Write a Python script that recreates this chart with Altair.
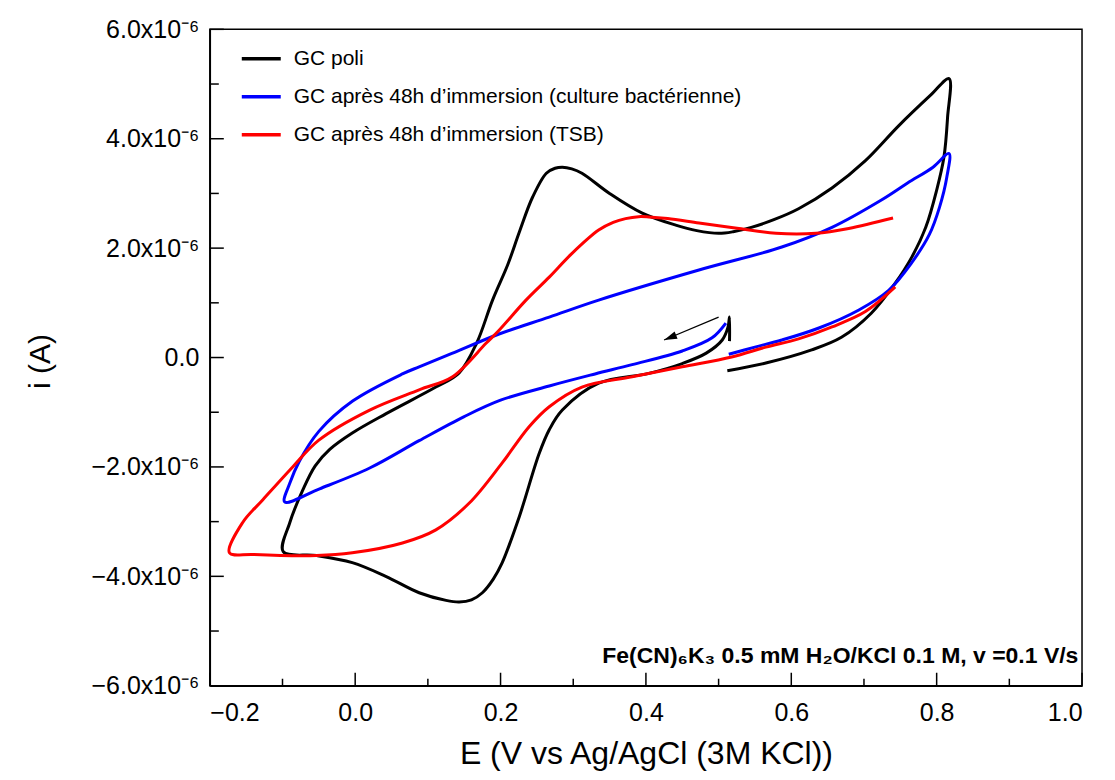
import altair as alt
import pandas as pd

SERIES = ["GC poli",
          "GC après 48h d’immersion (culture bactérienne)",
          "GC après 48h d’immersion (TSB)"]
COLORS = ["#000000", "#0000ff", "#ff0000"]

# ---- GC poli (black), current in µA ----
black_E = [0.512, 0.565, 0.628, 0.669, 0.710, 0.743, 0.766, 0.785, 0.800, 0.810, 0.815, 0.817,
           0.792, 0.748, 0.702, 0.656, 0.610, 0.576, 0.545, 0.520, 0.500, 0.470, 0.441, 0.395,
           0.350, 0.312, 0.298, 0.285, 0.275, 0.263, 0.244, 0.226, 0.210, 0.189, 0.167, 0.143,
           0.111, 0.042, -0.004, -0.035, -0.055, -0.072, -0.090, -0.099,
           -0.053, -0.004, 0.042, 0.088, 0.125, 0.143, 0.160, 0.175, 0.190, 0.202, 0.226, 0.253,
           0.267, 0.285, 0.335, 0.404, 0.450, 0.483, 0.505, 0.513, 0.515, 0.515]
black_I = [-0.24, -0.10, 0.14, 0.37, 0.81, 1.36, 1.84, 2.38, 3.06, 3.66, 4.39, 5.10,
           4.80, 4.24, 3.60, 3.10, 2.72, 2.52, 2.38, 2.30, 2.27, 2.32, 2.42, 2.64,
           3.00, 3.37, 3.45, 3.48, 3.46, 3.37, 2.93, 2.30, 1.70, 1.05, 0.26, -0.28,
           -0.54, -1.03, -1.38, -1.68, -1.98, -2.42, -3.02, -3.55,
           -3.62, -3.75, -4.00, -4.30, -4.44, -4.47, -4.43, -4.30, -4.05, -3.76, -2.90, -1.76,
           -1.32, -0.96, -0.47, -0.29, -0.11, 0.08, 0.32, 0.56, 0.74, 0.30]

# ---- GC après 48h d'immersion (culture bactérienne) (blue) ----
blue_E = [0.514, 0.550, 0.587, 0.638, 0.693, 0.734, 0.766, 0.790, 0.804, 0.814, 0.817,
          0.795, 0.760, 0.724, 0.656, 0.587, 0.473, 0.335, 0.267, 0.198, 0.134, 0.088, 0.065,
          -0.004, -0.050, -0.077, -0.090, -0.097,
          -0.049, 0.020, 0.088, 0.150, 0.200, 0.267, 0.330, 0.381, 0.450, 0.491, 0.510]
blue_I = [0.06, 0.19, 0.32, 0.54, 0.87, 1.23, 1.74, 2.25, 2.75, 3.30, 3.73,
          3.48, 3.19, 2.88, 2.38, 2.02, 1.60, 1.05, 0.74, 0.43, 0.08, -0.17, -0.30,
          -0.80, -1.35, -1.90, -2.30, -2.64,
          -2.40, -2.02, -1.52, -1.08, -0.78, -0.52, -0.30, -0.13, 0.12, 0.36, 0.63]

# ---- GC après 48h d'immersion (TSB) (red) ----
red_E = [0.740, 0.679, 0.634, 0.579, 0.528, 0.473, 0.430, 0.404, 0.390, 0.372, 0.355, 0.335,
         0.298, 0.267, 0.235, 0.198, 0.180, 0.134, 0.088, 0.020, -0.050, -0.086, -0.127,
         -0.155, -0.173,
         -0.141, -0.053, -0.004, 0.065, 0.111, 0.157, 0.202, 0.239, 0.267, 0.312, 0.381,
         0.450, 0.518, 0.565, 0.610, 0.656, 0.702, 0.743]
red_I = [2.55, 2.36, 2.27, 2.27, 2.36, 2.46, 2.54, 2.57, 2.575, 2.54, 2.47, 2.33,
         1.90, 1.47, 1.05, 0.50, 0.26, -0.35, -0.59, -0.96, -1.51, -2.00, -2.60,
         -3.02, -3.57,
         -3.60, -3.62, -3.57, -3.39, -3.15, -2.66, -1.93, -1.27, -0.90, -0.54, -0.35,
         -0.17, 0.01, 0.19, 0.34, 0.56, 0.84, 1.29]

x_major = [-0.2, 0.0, 0.2, 0.4, 0.6, 0.8, 1.0]
x_minor = [-0.1, 0.1, 0.3, 0.5, 0.7, 0.9]
y_major = [-6, -4, -2, 0, 2, 4, 6]
y_minor = [-5, -3, -1, 1, 3, 5]

arrow_E = [0.500, 0.425]   # tail, head
arrow_I = [0.74, 0.32]

note_text = "Fe(CN)₆K₃ 0.5 mM H₂O/KCl 0.1 M, v =0.1 V/s"
note_E = [0.995]
note_I = [-5.58]

W, H = 873, 657
FONT = "Liberation Sans"

rows = []
for name, es, is_ in zip(SERIES, [black_E, blue_E, red_E], [black_I, blue_I, red_I]):
    for k, (e, i) in enumerate(zip(es, is_)):
        rows.append({"series": name, "E": e, "I": i, "idx": k})
df = pd.DataFrame(rows)

xs = alt.Scale(domain=[-0.2, 1.0], nice=False, zero=False)
ys = alt.Scale(domain=[-6, 6], nice=False, zero=False)

x_axis = alt.Axis(
    values=x_major, format=".1f", title="E (V vs Ag/AgCl (3M KCl))",
    labelFontSize=25, labelPadding=15, labelBaseline="top",
    titleFontSize=32, titleFontWeight="normal", titleY=78, titleBaseline="alphabetic")
y_axis = alt.Axis(
    values=y_major,
    labelExpr="datum.value == 0 ? '0.0' : format(datum.value, '.1f') + 'x10⁻⁶'",
    title="i (A)", labelFontSize=25, labelPadding=11,
    titleFontSize=30, titleFontWeight="normal", titleX=-169, titleY=332,
    titleAngle=270, titleAlign="center", titleBaseline="middle")


def X(field):
    return alt.X(field, scale=xs, axis=x_axis)


def Y(field):
    return alt.Y(field, scale=ys, axis=y_axis)


lines = alt.Chart(df).mark_line(strokeWidth=3, strokeJoin="round",
                                interpolate="catmull-rom").encode(
    x=X("E:Q"),
    y=Y("I:Q"),
    color=alt.Color("series:N", title=None,
                    scale=alt.Scale(domain=SERIES, range=COLORS),
                    legend=alt.Legend(orient="none", legendX=30, legendY=8,
                                      symbolType="stroke", symbolSize=1521,
                                      symbolStrokeWidth=3.5, labelFontSize=21,
                                      labelFont=FONT, labelOffset=11, rowPadding=6,
                                      padding=0, labelLimit=700, labelColor="black")),
    order=alt.Order("idx:Q"),
)

xmaj = alt.Chart(pd.DataFrame({"E": x_major})).mark_rule(color="black", strokeWidth=1.5).encode(
    x=X("E:Q"), y=alt.value(H), y2=alt.value(H - 13))
xmin = alt.Chart(pd.DataFrame({"E": x_minor})).mark_rule(color="black", strokeWidth=1.5).encode(
    x=X("E:Q"), y=alt.value(H), y2=alt.value(H - 7))
ymaj = alt.Chart(pd.DataFrame({"I": y_major})).mark_rule(color="black", strokeWidth=1.5).encode(
    y=Y("I:Q"), x=alt.value(0), x2=alt.value(14))
ymin = alt.Chart(pd.DataFrame({"I": y_minor})).mark_rule(color="black", strokeWidth=1.5).encode(
    y=Y("I:Q"), x=alt.value(0), x2=alt.value(9))

arrow_df = pd.DataFrame({"E": [arrow_E[0]], "I": [arrow_I[0]],
                         "E2": [arrow_E[1]], "I2": [arrow_I[1]]})
shaft = alt.Chart(arrow_df).mark_rule(color="black", strokeWidth=1.3).encode(
    x=X("E:Q"), y=Y("I:Q"), x2="E2:Q", y2="I2:Q")
head_df = pd.DataFrame({"E": [arrow_E[1]], "I": [arrow_I[1]]})
head = alt.Chart(head_df).mark_point(
    shape="M0,0L0.6,2L-0.6,2Z", filled=True, color="black", opacity=1,
    size=169, angle=247.6).encode(x=X("E:Q"), y=Y("I:Q"))

note = alt.Chart(pd.DataFrame({"E": note_E, "I": note_I, "t": [note_text]})).mark_text(
    align="right", baseline="alphabetic", font=FONT, fontSize=23, fontWeight="bold",
    color="black").encode(x=X("E:Q"), y=Y("I:Q"), text="t:N")

chart = alt.layer(lines, xmaj, xmin, ymaj, ymin, shaft, head, note).properties(
    width=W, height=H,
    background="white",
    padding={"left": 202, "top": 21, "right": 25, "bottom": 86},
    autosize=alt.AutoSizeParams(type="none"),
).configure_view(stroke="black", strokeWidth=1.5).configure_axis(
    domainColor="black", domainWidth=1.5, grid=False, ticks=False, tickSize=0,
    labelColor="black", titleColor="black", labelFont=FONT, titleFont=FONT,
)

chart.save("out.html", embed_options={"renderer": "svg", "actions": False})
